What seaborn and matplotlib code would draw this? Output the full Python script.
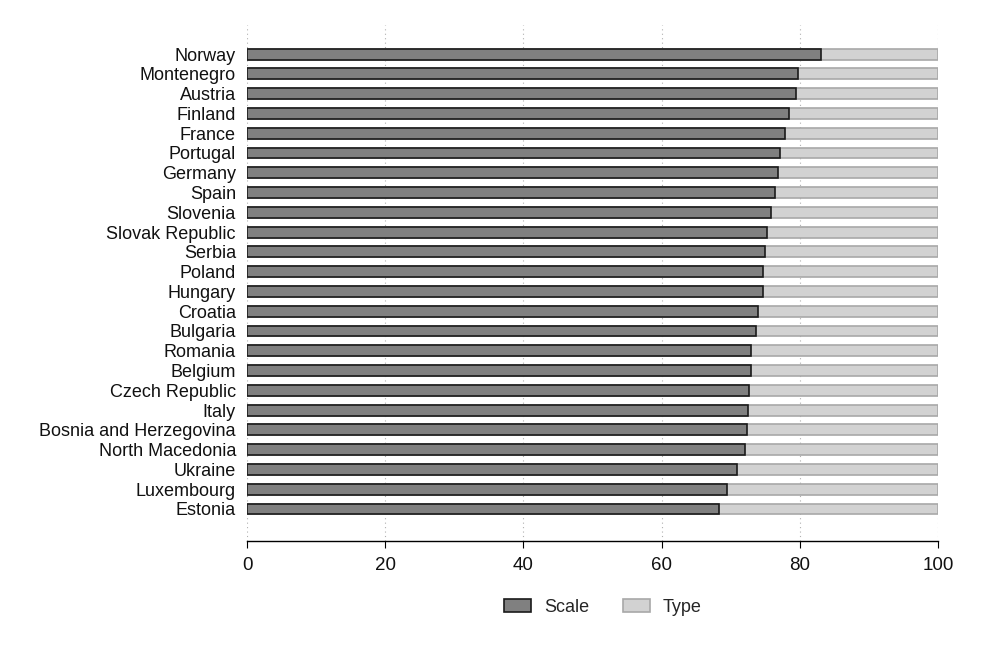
import numpy as np
import pandas as pd
import seaborn as sns
from matplotlib import pyplot as plt
from matplotlib.patches import Patch

countries = [
    "Norway", "Montenegro", "Austria", "Finland", "France", "Portugal",
    "Germany", "Spain", "Slovenia", "Slovak Republic", "Serbia", "Poland",
    "Hungary", "Croatia", "Bulgaria", "Romania", "Belgium", "Czech Republic",
    "Italy", "Bosnia and Herzegovina", "North Macedonia", "Ukraine",
    "Luxembourg", "Estonia",
]
scale = [
    83.0, 79.7, 79.4, 78.5, 77.9, 77.2, 76.8, 76.4, 75.8, 75.2, 75.0, 74.7,
    74.7, 74.0, 73.6, 73.0, 72.9, 72.7, 72.5, 72.3, 72.0, 70.9, 69.4, 68.3,
]
type_share = [round(100 - s, 1) for s in scale]

df = pd.DataFrame({"country": countries, "Scale": scale, "Type": type_share})
df["total"] = df["Scale"] + df["Type"]

sns.set_theme(style="white")
plt.rcParams["font.family"] = ["Liberation Sans", "DejaVu Sans"]

fig = plt.figure(figsize=(9.84, 6.56), dpi=100)
ax = fig.add_axes([247 / 984, 1 - 541 / 656, (938 - 247) / 984, (541 - 25) / 656])

scale_col, scale_edge = "#808080", "#1a1a1a"
type_col, type_edge = "#d2d2d2", "#a8a8a8"

# stacked: full bar in light grey, scale part drawn over it
sns.barplot(data=df, y="country", x="total", orient="h", color=type_col,
            edgecolor=type_edge, linewidth=1.2, width=0.55, saturation=1, ax=ax)
sns.barplot(data=df, y="country", x="Scale", orient="h", color=scale_col,
            edgecolor=scale_edge, linewidth=1.2, width=0.55, saturation=1, ax=ax)

ax.set_xlim(0, 100)
ax.set_ylim(len(countries) - 1 + 1.62, -1.47)
ax.set_xticks([0, 20, 40, 60, 80, 100])
ax.set_xlabel("")
ax.set_ylabel("")
ax.xaxis.grid(True, linestyle=(0, (1, 3)), color="#b0b0b0", linewidth=0.8)
ax.set_axisbelow(True)
for side in ["top", "right", "left"]:
    ax.spines[side].set_visible(False)
ax.spines["bottom"].set_color("black")
ax.spines["bottom"].set_linewidth(1)
ax.tick_params(axis="x", bottom=True, length=5, width=0.8, colors="black",
               labelsize=13.5, pad=6.5)
ax.tick_params(axis="y", left=False, length=0, labelsize=13, pad=8)
for lab in ax.get_xticklabels() + ax.get_yticklabels():
    lab.set_color("#111111")

handles = [
    Patch(facecolor=scale_col, edgecolor=scale_edge, linewidth=1.2, label="Scale"),
    Patch(facecolor=type_col, edgecolor=type_edge, linewidth=1.2, label="Type"),
]
fig.legend(handles=handles, loc="center", bbox_to_anchor=(603 / 984, 1 - 607 / 656),
           ncol=2, frameon=False, fontsize=13, handlelength=1.5, handleheight=0.7,
           columnspacing=1.9, handletextpad=0.7)

fig.savefig("out.png", dpi=100)
